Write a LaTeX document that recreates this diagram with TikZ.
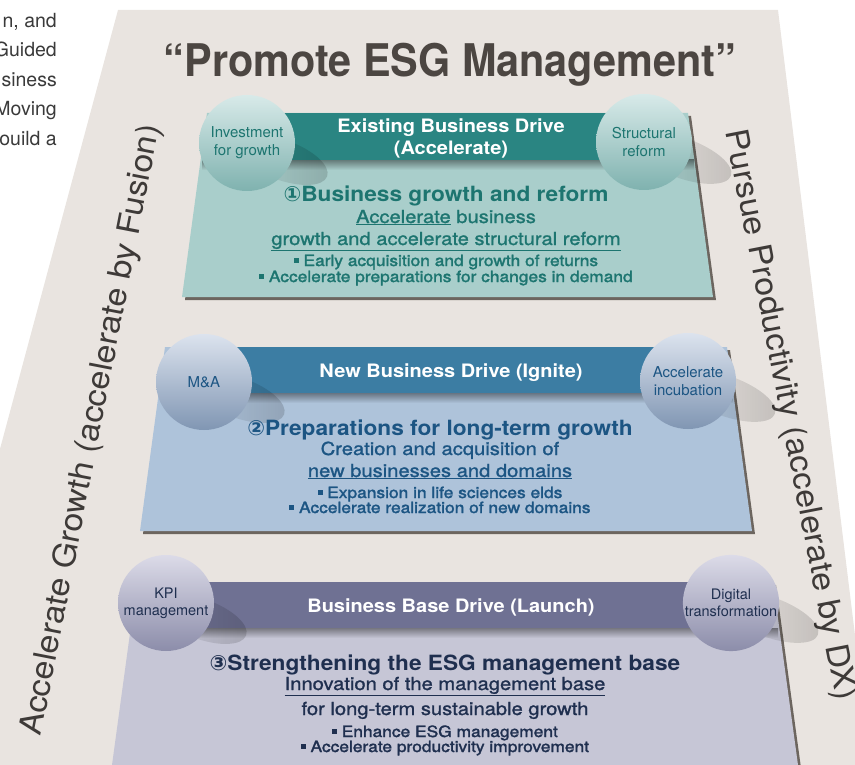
\documentclass[tikz,border=0pt]{standalone}
\usepackage{fontspec}
\setmainfont{TeX Gyre Heros}
\newfontfamily\widefont[FakeStretch=1.08]{TeX Gyre Heros}
\newfontfamily\medfont[FakeStretch=1.12, FakeBold=1.2]{TeX Gyre Heros}
\newfontfamily\pointfont[FakeStretch=1.12, FakeBold=1.8]{TeX Gyre Heros}
\newfontfamily\titlefont[FakeStretch=0.92]{TeX Gyre Heros}
\newfontfamily\symfont{DejaVu Sans}
\usetikzlibrary{fadings}

\definecolor{panelgray}{HTML}{E9E4E0}
\definecolor{titlegray}{HTML}{4C4642}
\definecolor{sidegray}{HTML}{3E3A38}
\definecolor{margingray}{HTML}{3A3A3A}
\definecolor{shadowgray}{HTML}{6C655F}
\definecolor{tealband}{HTML}{2A8582}
\definecolor{tealbody}{HTML}{A9CECB}
\definecolor{tealink}{HTML}{1D7570}
\definecolor{tealtop}{HTML}{D8EAE9}
\definecolor{tealbot}{HTML}{7FB2AF}
\definecolor{blueband}{HTML}{3C7DA3}
\definecolor{bluebody}{HTML}{AEC3DA}
\definecolor{blueink}{HTML}{1C5583}
\definecolor{bluetop}{HTML}{DCE3EE}
\definecolor{bluebot}{HTML}{8096B3}
\definecolor{greyband}{HTML}{6F7193}
\definecolor{greybody}{HTML}{C6C6D6}
\definecolor{greyink}{HTML}{1F2F4F}
\definecolor{greytop}{HTML}{DCDBE8}
\definecolor{greybot}{HTML}{8C8DAA}

\newcommand{\setsz}[2]{\fontsize{#1}{#2}\selectfont}
\newcommand{\sqb}{\rule[0.22em]{0.32em}{0.32em}\hspace{0.3em}}
\newcommand{\circnum}[1]{{\symfont #1}}

\begin{document}
\begin{tikzpicture}[x=1pt, y=-1pt,
   sphere/.style={circle, minimum size=96pt, inner sep=0pt, align=center},
   sphereshadow/.style={fill=black, opacity=0.16, path fading=west},
   bandtext/.style={anchor=base, text=white, font=\widefont\bfseries\setsz{18.5}{22}},
   headline/.style={anchor=base, font=\widefont\bfseries\setsz{21}{25}},
   subline/.style={anchor=base, font=\medfont\setsz{18}{22}},
   pointline/.style={anchor=base, font=\pointfont\setsz{15.5}{18}},
   sidetext/.style={text=sidegray, font=\widefont\setsz{31.5}{36}},
   titletext/.style={anchor=base, text=titlegray, font=\titlefont\bfseries\setsz{45}{54}},
   margintext/.style={align=right, text=margingray, font=\setsz{19.5}{29.5}, inner sep=0pt}
]
\useasboundingbox (0,0) rectangle (855,765);
\clip (0,0) rectangle (855,765);

\node[margintext, anchor=north east] (intro) at (57,13)
   {n, and\\Guided\\siness\\Moving\\ouild a};

\fill[panelgray] (118,10) -- (778,10) -- (871,765) -- (-85,765) -- cycle;

\node[titletext] (title) at (450,77) {“Promote ESG Management”};

\node[sidetext, rotate=79] (growth) at (92,430) {Accelerate Growth (accelerate by Fusion)};
\node[sidetext, rotate=-79] (dx) at (789,415) {Pursue Productivity (accelerate by DX)};

% existing business
\fill[shadowgray] (210,116) -- (691,116) -- (716,300) -- (185,300) -- cycle;
\fill[tealbody] (207,113) -- (688,113) -- (713,297) -- (182,297) -- cycle;
\shade[top color=tealbody!60!black, bottom color=tealbody] (202,160) rectangle (694,170);
\fill[tealband] (247,113) rectangle (644,160);
\fill[sphereshadow] (282,160) ellipse [x radius=48, y radius=20, rotate=-20];
\fill[sphereshadow] (682,158) ellipse [x radius=52, y radius=20, rotate=-20];
\node[sphere, top color=tealtop, bottom color=tealbot, text=tealink,
   font=\setsz{15}{18}] (invest) at (247,143) {Investment\\for growth};
\node[sphere, top color=tealtop, bottom color=tealbot, text=tealink,
   font=\setsz{15}{18}] (reform) at (644,142) {Structural\\reform};
\node[bandtext] (drive1) at (451,133) {Existing Business Drive};
\node[bandtext] (drive1b) at (451,155) {(Accelerate)};
\node[headline, text=tealink] (goal1) at (446,202) {\circnum{①}Business growth and reform};
\node[subline, text=tealink] (sub1a) at (446,223) {\underline{Accelerate} business};
\node[subline, text=tealink] (sub1b) at (446,245) {\underline{growth and accelerate structural reform}};
\node[pointline, text=tealink] (pt1a) at (446,266) {\sqb Early acquisition and growth of returns};
\node[pointline, text=tealink] (pt1b) at (446,282) {\sqb Accelerate preparations for changes in demand};

% new business
\fill[shadowgray] (168,350) -- (730,350) -- (755,534) -- (143,534) -- cycle;
\fill[bluebody] (165,347) -- (727,347) -- (752,531) -- (140,531) -- cycle;
\shade[top color=bluebody!60!black, bottom color=bluebody] (160,393) rectangle (733,403);
\fill[blueband] (204,347) rectangle (688,393);
\fill[sphereshadow] (239,398) ellipse [x radius=48, y radius=20, rotate=-20];
\fill[sphereshadow] (726,396) ellipse [x radius=52, y radius=20, rotate=-20];
\node[sphere, top color=bluetop, bottom color=bluebot, text=blueink,
   font=\setsz{15}{18}] (ma) at (204,382) {M\&A};
\node[sphere, top color=bluetop, bottom color=bluebot, text=blueink,
   font=\setsz{15}{18}] (incub) at (688,381) {Accelerate\\incubation};
\node[bandtext] (drive2) at (451,377) {New Business Drive (Ignite)};
\node[headline, text=blueink] (goal2) at (440,435) {\circnum{②}Preparations for long-term growth};
\node[subline, text=blueink] (sub2a) at (440,455) {Creation and acquisition of};
\node[subline, text=blueink] (sub2b) at (440,477) {\underline{new businesses and domains}};
\node[pointline, text=blueink] (pt2a) at (440,498) {\sqb Expansion in life sciences elds};
\node[pointline, text=blueink] (pt2b) at (440,513) {\sqb Accelerate realization of new domains};

% business base
\fill[shadowgray] (140,585) -- (776,585) -- (801,768) -- (115,768) -- cycle;
\fill[greybody] (137,582) -- (773,582) -- (798,765) -- (112,765) -- cycle;
\shade[top color=greybody!60!black, bottom color=greybody] (133,628) rectangle (778,638);
\fill[greyband] (166,582) rectangle (731,628);
\fill[sphereshadow] (201,619) ellipse [x radius=48, y radius=20, rotate=-20];
\fill[sphereshadow] (769,617) ellipse [x radius=52, y radius=20, rotate=-20];
\node[sphere, top color=greytop, bottom color=greybot, text=greyink,
   font=\setsz{14.5}{17}] (kpi) at (166,603) {KPI\\management};
\node[sphere, top color=greytop, bottom color=greybot, text=greyink,
   font=\setsz{14.5}{17}] (digital) at (731,603) {Digital\\transformation};
\node[bandtext] (drive3) at (451,612) {Business Base Drive (Launch)};
\node[headline, text=greyink] (goal3) at (445,670) {\circnum{③}Strengthening the ESG management base};
\node[subline, text=greyink] (sub3a) at (445,690) {\underline{Innovation of the management base}};
\node[subline, text=greyink] (sub3b) at (445,715) {for long-term sustainable growth};
\node[pointline, text=greyink] (pt3a) at (445,737) {\sqb Enhance ESG management};
\node[pointline, text=greyink] (pt3b) at (445,752) {\sqb Accelerate productivity improvement};
\end{tikzpicture}
\end{document}
